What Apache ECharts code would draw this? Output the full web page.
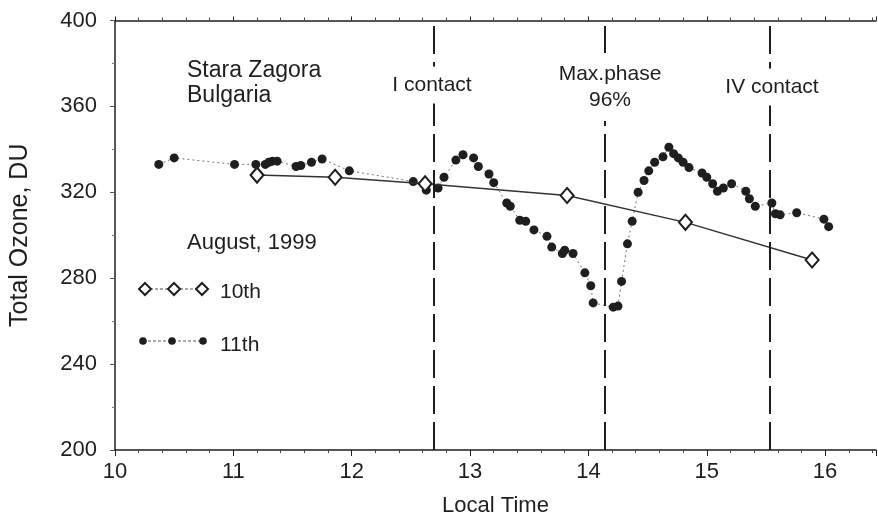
<!DOCTYPE html>
<html><head><meta charset="utf-8">
<script src="https://cdn.jsdelivr.net/npm/echarts@6/dist/echarts.min.js"></script>
<style>html,body{margin:0;padding:0;background:#fff}#c{width:878px;height:520px}</style>
</head><body><div id="c"></div>
<script>
// ---- data ----
const day10Time  = [11.20, 11.86, 12.62, 13.82, 14.82, 15.89];
const day10Ozone = [328, 327, 324, 318.5, 306, 288.5];
const day11Time  = [10.37,10.50,11.01,11.19,11.27,11.30,11.33,11.37,11.53,11.57,11.66,11.75,11.98,
  12.52,12.63,12.73,12.78,12.88,12.94,13.03,13.07,13.16,13.20,13.31,13.34,13.42,13.47,13.54,13.65,
  13.69,13.78,13.80,13.87,13.97,14.02,14.04,14.21,14.25,14.28,14.33,14.37,14.42,14.47,14.51,14.56,
  14.63,14.68,14.72,14.76,14.80,14.85,14.96,15.00,15.05,15.09,15.14,15.21,15.33,15.36,15.41,15.55,
  15.58,15.62,15.76,15.99,16.03];
const day11Ozone = [333,336,333,333,333,334,334.5,334.5,332,332.5,334,335.5,330,
  325,321,322,327,335,337.5,336,332,328.5,324.5,315,313.5,307,306.5,302.5,299.5,
  294.5,291.5,293,291.5,282.5,276.5,268.5,266.5,267,278.5,296,306.5,320,325.5,330,334,
  336.5,341,338,336,334,331.5,329,327,324,320.5,322,324,320.5,317,313.5,315,
  310,309.5,310.5,307.5,304];
const contactTimes = [12.69, 14.14, 15.53];
const xTicks = [10, 11, 12, 13, 14, 15, 16];
const yTicks = [200, 240, 280, 320, 360, 400];
const seriesNames = ['10th', '11th'];

const FONT = '"Liberation Sans", Arial, sans-serif';
const INK = '#1e1e1e';
const zip = (a, b) => a.map((v, i) => [v, b[i]]);

const chart = echarts.init(document.getElementById('c'), null, {renderer: 'canvas'});

function diamond(cx, cy, w, h) {
  return [[cx, cy - h / 2], [cx + w / 2, cy], [cx, cy + h / 2], [cx - w / 2, cy]];
}

const graphics = [
  {type: 'text', z: 100, style: {text: 'Stara Zagora', x: 187, y: 71, font: '23px ' + FONT, fill: INK, textVerticalAlign: 'middle'}},
  {type: 'text', z: 100, style: {text: 'Bulgaria', x: 187, y: 96, font: '23px ' + FONT, fill: INK, textVerticalAlign: 'middle'}},
  {type: 'text', z: 100, style: {text: 'I contact', x: 432, y: 85, font: '21px ' + FONT, fill: INK, textAlign: 'center', textVerticalAlign: 'middle', backgroundColor: '#fff', padding: [8, 2, 8, 2]}},
  {type: 'text', z: 100, style: {text: 'Max.phase\n96%', x: 610, y: 87, font: '21px ' + FONT, lineHeight: 26, fill: INK, textAlign: 'center', textVerticalAlign: 'middle', backgroundColor: '#fff', padding: [8, 2, 8, 2]}},
  {type: 'text', z: 100, style: {text: 'IV contact', x: 772, y: 87, font: '21px ' + FONT, fill: INK, textAlign: 'center', textVerticalAlign: 'middle', backgroundColor: '#fff', padding: [8, 2, 8, 2]}},
  {type: 'text', z: 100, style: {text: 'August, 1999', x: 187, y: 243, font: '22px ' + FONT, fill: INK, textVerticalAlign: 'middle'}},
  // legend 10th
  {type: 'line', z: 100, shape: {x1: 145, y1: 289, x2: 202, y2: 289}, style: {stroke: '#555', lineWidth: 1, lineDash: [3, 2]}},
  {type: 'polygon', z: 101, shape: {points: diamond(145, 289, 12, 12)}, style: {fill: '#fff', stroke: INK, lineWidth: 2}},
  {type: 'polygon', z: 101, shape: {points: diamond(174, 289, 12, 12)}, style: {fill: '#fff', stroke: INK, lineWidth: 2}},
  {type: 'polygon', z: 101, shape: {points: diamond(202, 289, 12, 12)}, style: {fill: '#fff', stroke: INK, lineWidth: 2}},
  {type: 'text', z: 100, style: {text: seriesNames[0], x: 220, y: 292, font: '21px ' + FONT, fill: INK, textVerticalAlign: 'middle'}},
  // legend 11th
  {type: 'line', z: 100, shape: {x1: 143, y1: 341, x2: 203, y2: 341}, style: {stroke: '#555', lineWidth: 1, lineDash: [3, 2]}},
  {type: 'circle', z: 101, shape: {cx: 143, cy: 341, r: 3.8}, style: {fill: INK}},
  {type: 'circle', z: 101, shape: {cx: 172, cy: 341, r: 3.8}, style: {fill: INK}},
  {type: 'circle', z: 101, shape: {cx: 203, cy: 341, r: 3.8}, style: {fill: INK}},
  {type: 'text', z: 100, style: {text: seriesNames[1], x: 220, y: 345, font: '21px ' + FONT, fill: INK, textVerticalAlign: 'middle'}}
];

const axisCommon = {
  type: 'value', min: 10, max: 16.43, interval: 1,
  splitLine: {show: false},
  axisLine: {show: true, onZero: false, lineStyle: {color: INK, width: 1.5}},
  minorTick: {show: true, splitNumber: 5, length: 3, lineStyle: {color: '#444'}},
};

chart.setOption({
  animation: false,
  backgroundColor: '#fff',
  grid: {left: 115, right: 2, top: 20.5, bottom: 70, containLabel: false, outerBoundsMode: 'none'},
  xAxis: [
    Object.assign({}, axisCommon, {
      position: 'bottom',
      name: 'Local Time', nameLocation: 'middle', nameGap: 45,
      nameTextStyle: {fontFamily: FONT, fontSize: 22, color: INK},
      axisTick: {show: true, inside: false, length: 6, lineStyle: {color: INK}},
      axisLabel: {show: true, margin: 11, fontFamily: FONT, fontSize: 22, color: INK, showMaxLabel: false,
        formatter: v => xTicks.includes(v) ? String(v) : ''}
    }),
    Object.assign({}, axisCommon, {
      position: 'top',
      axisTick: {show: true, inside: false, length: 4, lineStyle: {color: INK}},
      axisLabel: {show: false}
    })
  ],
  yAxis: {
    type: 'value', min: 200, max: 400, interval: 40,
    name: 'Total Ozone, DU', nameLocation: 'middle', nameGap: 82, nameRotate: 90,
    nameTextStyle: {fontFamily: FONT, fontSize: 25, color: INK},
    splitLine: {show: false},
    axisLine: {show: true, lineStyle: {color: INK, width: 1.5}},
    axisTick: {show: true, length: 5, lineStyle: {color: '#555'}},
    minorTick: {show: true, splitNumber: 2, length: 3, lineStyle: {color: '#777'}},
    axisLabel: {margin: 18, fontFamily: FONT, fontSize: 22, color: INK,
      formatter: v => yTicks.includes(v) ? String(v) : ''}
  },
  series: [
    {
      name: seriesNames[1], type: 'line', data: zip(day11Time, day11Ozone),
      symbol: 'circle', symbolSize: 9,
      itemStyle: {color: INK, borderWidth: 0},
      lineStyle: {color: '#777', width: 1, type: [2, 3]},
      z: 3
    },
    {
      name: seriesNames[0], type: 'line', data: zip(day10Time, day10Ozone),
      symbol: 'diamond', symbolSize: [13, 15],
      itemStyle: {color: '#fff', borderColor: INK, borderWidth: 2},
      lineStyle: {color: '#333', width: 1.5},
      z: 4,
      markLine: {
        silent: true, symbol: 'none', label: {show: false},
        lineStyle: {color: INK, width: 2, type: [28, 8]},
        data: contactTimes.map(t => ({xAxis: t}))
      }
    }
  ],
  graphic: graphics
});
</script>
</body></html>
